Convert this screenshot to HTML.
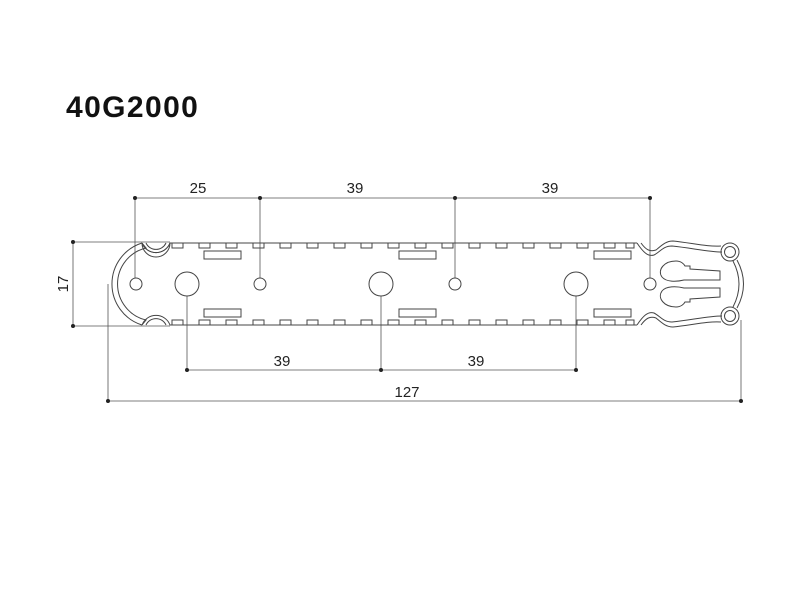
<!DOCTYPE html>
<html><head><style>
body{margin:0;background:#fff;width:800px;height:600px;overflow:hidden;position:relative}
.t{position:absolute;left:66px;top:91px;font:bold 30px "Liberation Sans",sans-serif;letter-spacing:1.4px;color:#111}
</style></head><body>
<div class="t">40G2000</div>
<svg width="800" height="600" style="position:absolute;left:0;top:0" font-family="Liberation Sans, sans-serif" font-size="15" fill="none" stroke="#444" stroke-width="1">
<g stroke="#555" stroke-width="0.8">
<line x1="135" y1="198" x2="650" y2="198"/>
<line x1="135" y1="198" x2="135" y2="278"/>
<line x1="260" y1="198" x2="260" y2="278"/>
<line x1="455" y1="198" x2="455" y2="278"/>
<line x1="650" y1="198" x2="650" y2="278"/>
<line x1="73" y1="242" x2="170" y2="242"/>
<line x1="73" y1="326" x2="170" y2="326"/>
<line x1="73" y1="242" x2="73" y2="326"/>
<line x1="187" y1="370" x2="576" y2="370"/>
<line x1="187" y1="296" x2="187" y2="370"/>
<line x1="381" y1="296" x2="381" y2="370"/>
<line x1="576" y1="296" x2="576" y2="370"/>
<line x1="108" y1="401" x2="741" y2="401"/>
<line x1="108" y1="284" x2="108" y2="401"/>
<line x1="741" y1="320" x2="741" y2="401"/>
</g>
<g fill="#222" stroke="none">
<circle cx="135" cy="198" r="2"/><circle cx="260" cy="198" r="2"/><circle cx="455" cy="198" r="2"/><circle cx="650" cy="198" r="2"/>
<circle cx="73" cy="242" r="2"/><circle cx="73" cy="326" r="2"/>
<circle cx="187" cy="370" r="2"/><circle cx="381" cy="370" r="2"/><circle cx="576" cy="370" r="2"/>
<circle cx="108" cy="401" r="2"/><circle cx="741" cy="401" r="2"/>
</g>
<g fill="#222" stroke="none">
<text x="198" y="193" text-anchor="middle">25</text>
<text x="355" y="193" text-anchor="middle">39</text>
<text x="550" y="193" text-anchor="middle">39</text>
<text x="282" y="366" text-anchor="middle">39</text>
<text x="476" y="366" text-anchor="middle">39</text>
<text x="407" y="397" text-anchor="middle">127</text>
<text x="0" y="0" text-anchor="middle" transform="translate(68,284) rotate(-90)">17</text>
</g>
<!-- left end -->
<path d="M142,243 A43,43 0 0 0 142,325"/>
<path d="M142,243 L146,248 A37,37 0 0 0 146,320 L142,325"/>
<path d="M142,243 A15,15 0 0 0 170,243 L637,243"/>
<path d="M142,243 A15,15 0 0 0 170,243"/>
<path d="M142,243 A14,14 0 0 0 170,243" transform="translate(0,0)"/>
<path d="M142,325 A15,15 0 0 1 170,325 L637,325"/>
<path d="M146,243 A11,11 0 0 0 166,243"/>
<path d="M146,325 A11,11 0 0 1 166,325"/>
<g id="n">
<rect x="172" y="243" width="11" height="5"/><rect x="199" y="243" width="11" height="5"/><rect x="226" y="243" width="11" height="5"/><rect x="253" y="243" width="11" height="5"/><rect x="280" y="243" width="11" height="5"/><rect x="307" y="243" width="11" height="5"/><rect x="334" y="243" width="11" height="5"/><rect x="361" y="243" width="11" height="5"/><rect x="388" y="243" width="11" height="5"/><rect x="415" y="243" width="11" height="5"/><rect x="442" y="243" width="11" height="5"/><rect x="469" y="243" width="11" height="5"/><rect x="496" y="243" width="11" height="5"/><rect x="523" y="243" width="11" height="5"/><rect x="550" y="243" width="11" height="5"/><rect x="577" y="243" width="11" height="5"/><rect x="604" y="243" width="11" height="5"/><rect x="626" y="243" width="8" height="5"/>
</g>
<use href="#n" transform="translate(0,568) scale(1,-1)"/>
<rect x="204" y="251" width="37" height="8"/><rect x="399" y="251" width="37" height="8"/><rect x="594" y="251" width="37" height="8"/>
<rect x="204" y="309" width="37" height="8"/><rect x="399" y="309" width="37" height="8"/><rect x="594" y="309" width="37" height="8"/>
<circle cx="136" cy="284" r="6"/><circle cx="260" cy="284" r="6"/><circle cx="455" cy="284" r="6"/><circle cx="650" cy="284" r="6"/>
<circle cx="187" cy="284" r="12"/><circle cx="381" cy="284" r="12"/><circle cx="576" cy="284" r="12"/>
<!-- right head -->
<g id="h">
<path d="M637,243 C643,252 648,257 654,255 C660,252 663,246 672,246 C692,248 708,252 722,252"/>
<path d="M641,243 C646,250 650,252 656,250 C662,245 666,241 673,241 C692,243 708,247 721,246"/>
<circle cx="730" cy="252" r="9"/><circle cx="730" cy="252" r="5.5"/>
<path d="M676,261 C681,261 684,264 685,266 L690,266 L690,269 L720,271 L720,280 L690,280 L684,280 C676,282 666,282 662,277 C657,270 664,261 676,261 Z"/>
</g>
<use href="#h" transform="translate(0,568) scale(1,-1)"/>
<path d="M737,260 Q750,284 737,308"/>
<path d="M733,261 Q745,284 733,307"/>
</svg>
</body></html>
